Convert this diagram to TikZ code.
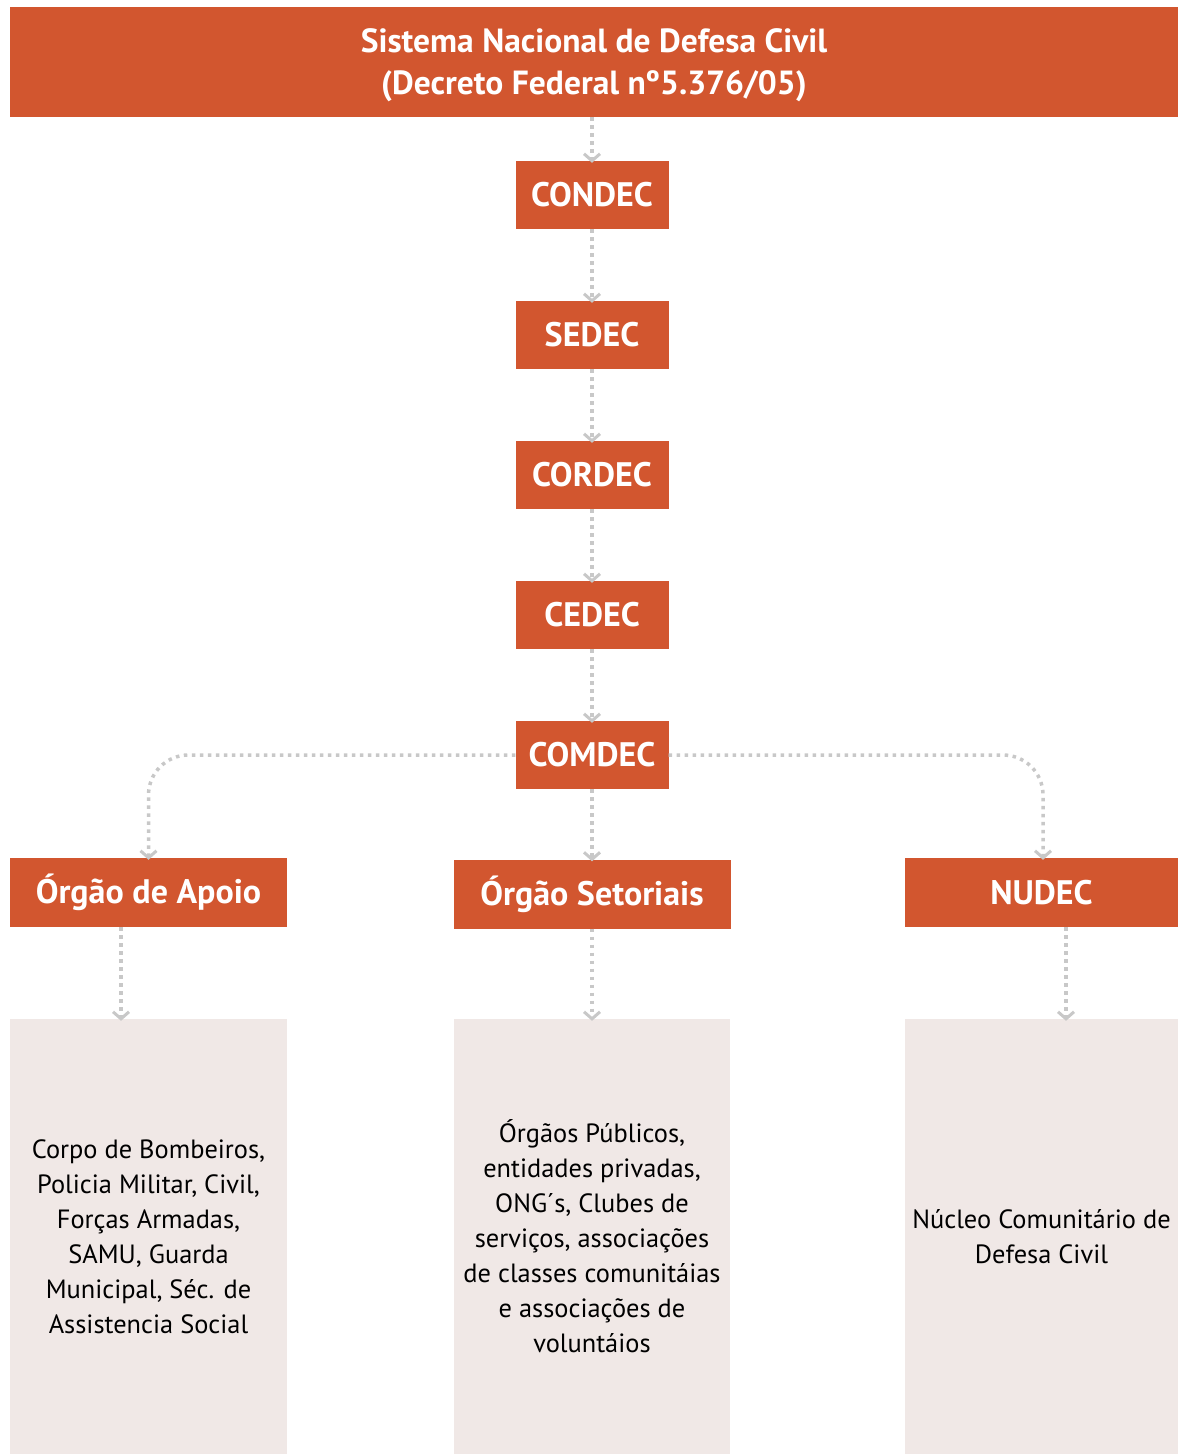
\documentclass[tikz,border=0pt]{standalone}
\usepackage{fontspec}
\setmainfont{PT Sans}
\usetikzlibrary{arrows.meta}
\definecolor{brick}{RGB}{210,86,47}
\definecolor{pale}{RGB}{240,232,230}
\definecolor{dotgray}{RGB}{200,200,200}
\tikzset{
  hdr/.style={fill=brick, draw=none, text=white, font=\fontsize{34}{38}\selectfont\bfseries, inner sep=0pt, align=center},
  lvl/.style={hdr, minimum width=153pt, minimum height=68pt},
  grp/.style={hdr, minimum width=277pt, minimum height=69pt},
  info/.style={fill=pale, draw=none, text=black, font=\fontsize{26.4}{35}\selectfont, inner sep=0pt, align=center, minimum width=277pt, minimum height=435pt},
  link/.style={draw=dotgray, line width=3.5pt, dash pattern=on 3.5pt off 4.5pt, -{Straight Barb[length=7pt,width=16pt,line width=3pt]}}
}
\begin{document}
\begin{tikzpicture}[x=1pt,y=-1pt]
\useasboundingbox (0,0) rectangle (1178,1454);
\node[hdr, minimum width=1168pt, minimum height=110pt, text depth=-2pt, font=\fontsize{33.5}{42}\selectfont\bfseries] (top) at (594,62) {Sistema Nacional de Defesa Civil\\(Decreto Federal nº5.376/05)};
\node[lvl] (condec) at (592,195) {CONDEC};
\node[lvl] (sedec) at (592,335) {SEDEC};
\node[lvl] (cordec) at (592,475) {CORDEC};
\node[lvl] (cedec) at (592,615) {CEDEC};
\node[lvl] (comdec) at (592,755) {COMDEC};
\node[grp] (apoio) at (148.5,892.5) {Órgão de Apoio};
\node[grp] (setor) at (592,894) {Órgão Setoriais};
\node[grp, minimum width=273pt] (nudec) at (1041.5,892.5) {NUDEC};
\node[info] (iapoio) at (148.5,1236.5) {Corpo de Bombeiros,\\Policia Militar, Civil,\\Forças Armadas,\\SAMU, Guarda\\Municipal, Séc. de\\Assistencia Social};
\node[info, minimum width=276pt] (isetor) at (592,1236.5) {Órgãos Públicos,\\entidades privadas,\\ONG´s, Clubes de\\serviços, associações\\de classes comunitáias\\e associações de\\voluntáios};
\node[info, minimum width=273pt] (inudec) at (1041.5,1236.5) {Núcleo Comunitário de\\Defesa Civil};
\draw[link] (top.south -| condec.north) -- ([yshift=-2pt]condec.north);
\draw[link] (condec) -- ([yshift=-2pt]sedec.north);
\draw[link] (sedec) -- ([yshift=-2pt]cordec.north);
\draw[link] (cordec) -- ([yshift=-2pt]cedec.north);
\draw[link] (cedec) -- ([yshift=-2pt]comdec.north);
\draw[link] (comdec) -- ([yshift=-2pt]setor.north);
\draw[link, rounded corners=40pt] (comdec.west) -| ([yshift=-2pt]apoio.north);
\draw[link, rounded corners=40pt] (comdec.east) -| ([xshift=1.5pt,yshift=-2pt]nudec.north);
\coordinate (aA) at ([xshift=-27.5pt]apoio.south);
\coordinate (aN) at ([xshift=24.5pt]nudec.south);
\coordinate (tA) at ([xshift=-27.5pt,yshift=-2pt]iapoio.north);
\coordinate (tN) at ([xshift=24.5pt,yshift=-2pt]inudec.north);
\draw[link] (aA) -- (tA);
\draw[link] (setor) -- ([yshift=-2pt]isetor.north);
\draw[link] (aN) -- (tN);
\end{tikzpicture}
\end{document}
